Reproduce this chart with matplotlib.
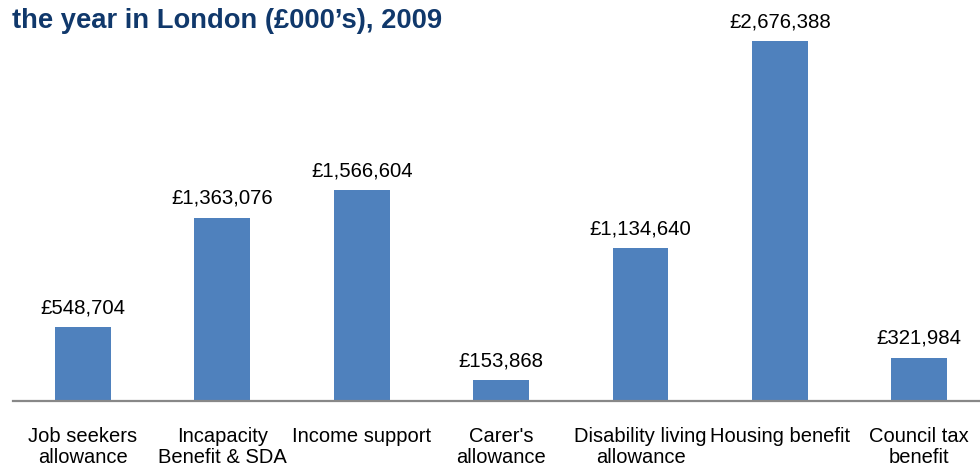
import matplotlib
matplotlib.use("Agg")
import matplotlib.pyplot as plt

# Benefit expenditure in London, 2009 (£000's)
categories = [
    "Job seekers\nallowance",
    "Incapacity\nBenefit & SDA",
    "Income support",
    "Carer's\nallowance",
    "Disability living\nallowance",
    "Housing benefit",
    "Council tax\nbenefit",
]
values = [548704, 1363076, 1566604, 153868, 1134640, 2676388, 321984]
value_labels = ["£{:,}".format(v) for v in values]
title = "the year in London (£000\u2019s), 2009"

plt.rcParams["font.family"] = ["Liberation Sans", "DejaVu Sans"]

fig = plt.figure(figsize=(9.8, 4.67), dpi=100)
W, H = 980, 467
ax = fig.add_axes([13.25 / W, (H - 401) / H, 975.75 / W, 401 / H])

x = list(range(len(categories)))
bars = ax.bar(x, values, width=0.4, color="#4F81BD", zorder=2)

ax.set_xlim(-0.5, len(categories) - 0.5)
ax.set_ylim(0, 2676388 * 401 / 360)

for rect, lab in zip(bars, value_labels):
    ax.annotate(lab, (rect.get_x() + rect.get_width() / 2, rect.get_height()),
                xytext=(0, 7), textcoords="offset points",
                ha="center", va="bottom", fontsize=14.7, color="#000000")

ax.set_xticks(x)
ax.set_xticklabels(categories, fontsize=14.5, linespacing=1.1)
ax.tick_params(axis="x", length=0, pad=19)
ax.set_yticks([])
for s in ("top", "right", "left"):
    ax.spines[s].set_visible(False)
ax.spines["bottom"].set_color("#888888")
ax.spines["bottom"].set_linewidth(1.6)

fig.text(12 / W, (H - 28) / H, title, fontsize=19.7, fontweight="bold",
         color="#10386B", ha="left", va="baseline")

fig.savefig("out.png", dpi=100)
